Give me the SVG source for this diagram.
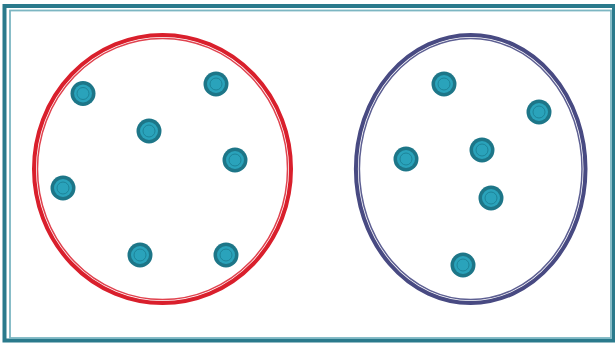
<svg xmlns="http://www.w3.org/2000/svg" width="615" height="343" viewBox="0 0 615 343">
<defs>
<style>
.frame-o{fill:none;stroke:#2a7a8c;stroke-width:4}
.frame-i{fill:none;stroke:#7cb6c2;stroke-width:1.8}
.red-o{fill:none;stroke:#d91f2c;stroke-width:4}
.red-i{fill:none;stroke:#e0424e;stroke-width:1.5}
.blue-o{fill:none;stroke:#484a82;stroke-width:4}
.blue-i{fill:none;stroke:#5d5f92;stroke-width:1.5}
.d1{fill:#1d7688}
.d2{fill:#2aa3bb}
.d3{fill:none;stroke:#1d8499;stroke-width:1}
</style>
<g id="dot">
<circle class="d1" r="12.5"/>
<circle class="d2" r="9"/>
<circle class="d3" r="6"/>
</g>
</defs>
<rect width="615" height="343" fill="#ffffff"/>
<g id="frame">
<rect class="frame-o" x="4.5" y="6" width="609.5" height="334.5"/>
<rect class="frame-i" x="10" y="10.5" width="601" height="327.5"/>
</g>
<g id="set-red">
<ellipse class="red-o" cx="162.5" cy="169" rx="128.5" ry="134"/>
<ellipse class="red-i" cx="162.5" cy="169" rx="125" ry="130.5"/>
</g>
<g id="set-blue">
<ellipse class="blue-o" cx="470.7" cy="169" rx="114.8" ry="134"/>
<ellipse class="blue-i" cx="470.7" cy="169" rx="111.3" ry="130.5"/>
</g>
<g id="dots-left">
<use href="#dot" x="83" y="93.5"/>
<use href="#dot" x="216" y="84"/>
<use href="#dot" x="149" y="131"/>
<use href="#dot" x="235" y="160"/>
<use href="#dot" x="63" y="188"/>
<use href="#dot" x="140" y="255"/>
<use href="#dot" x="226" y="255"/>
</g>
<g id="dots-right">
<use href="#dot" x="444" y="84"/>
<use href="#dot" x="539" y="112"/>
<use href="#dot" x="406" y="159"/>
<use href="#dot" x="482" y="150"/>
<use href="#dot" x="491" y="198"/>
<use href="#dot" x="463" y="265"/>
</g>
</svg>
